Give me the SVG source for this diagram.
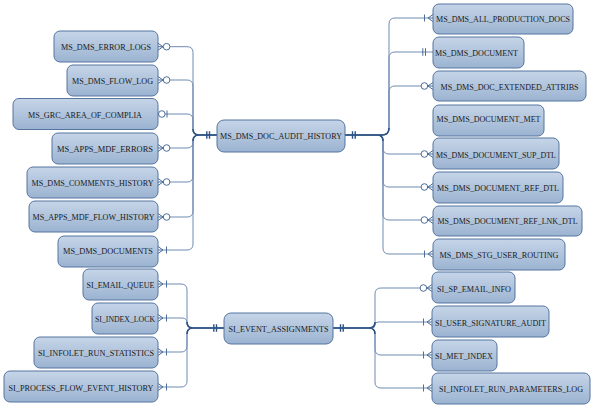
<svg xmlns="http://www.w3.org/2000/svg" width="594" height="408" viewBox="0 0 594 408">
<defs>
<linearGradient id="bg" x1="0" y1="0" x2="0" y2="1">
<stop offset="0" stop-color="#c6d5e8"/>
<stop offset="1" stop-color="#9bb3d1"/>
</linearGradient>
<g id="zm"><path d="M0,-3.5 L5,0 L0,3.5 M0,0 H5"/><circle cx="8.6" cy="0" r="3.3"/></g>
<g id="om"><path d="M0,-3.5 L5,0 L0,3.5 M0,0 H5 M8.5,-3.5 V3.5"/></g>
<g id="zo"><circle cx="3.8" cy="0" r="3.3"/><path d="M9,-3.5 V3.5"/></g>
<g id="oo"><path d="M7.5,-3.8 V3.8 M10.2,-3.8 V3.8"/></g>
</defs>
<style>
.box{fill:url(#bg);stroke:#55749f;stroke-width:1}
text{font-family:"Liberation Serif","Times New Roman",serif;font-size:8.8px;fill:#1a1a1a;text-anchor:middle}
.br{fill:none;stroke:#6f8bb2;stroke-width:1}
.mn{fill:none;stroke:#2c5283;stroke-width:1.6}
.sym{fill:#fff;stroke:#4d6d9a;stroke-width:1}
.symm{fill:none;stroke:#2c5283;stroke-width:1.4}
</style>

<g id="connectors">
<path class="br" d="M158,46.7 H187 Q193,46.7 193,52.7 V129 Q193,135 199,135 H217"/>
<path class="br" d="M158,80 H187 Q193,80 193,86 V129 Q193,135 199,135 H217"/>
<path class="br" d="M158,114 H187 Q193,114 193,120 V129 Q193,135 199,135 H217"/>
<path class="br" d="M158,148 H187 Q193,148 193,142 Q193,135 199,135 H217"/>
<path class="br" d="M158,182 H187 Q193,182 193,176 V141 Q193,135 199,135 H217"/>
<path class="br" d="M158,217 H187 Q193,217 193,211 V141 Q193,135 199,135 H217"/>
<path class="br" d="M158,250 H187 Q193,250 193,244 V141 Q193,135 199,135 H217"/>
<path class="mn" d="M193,129 Q193,135 199,135 H217 M193,141 Q193,135 199,135"/>

<path class="br" d="M433,18 H395 Q389,18 389,24 V128 Q389,135 382,135 H345"/>
<path class="br" d="M433,52 H395 Q389,52 389,58 V128 Q389,135 382,135 H345"/>
<path class="br" d="M433,86 H395 Q389,86 389,92 V128 Q389,135 382,135 H345"/>
<path class="br" d="M433,154 H389 Q383,154 383,148 V141 Q383,135 377,135 H345"/>
<path class="br" d="M433,187 H389 Q383,187 383,181 V141 Q383,135 377,135 H345"/>
<path class="br" d="M433,220 H389 Q383,220 383,214 V141 Q383,135 377,135 H345"/>
<path class="br" d="M433,254 H389 Q383,254 383,248 V141 Q383,135 377,135 H345"/>
<path class="mn" d="M345,135 H382 Q389,135 389,128 M377,135 Q383,135 383,141"/>

<path class="br" d="M158,284 H181 Q187,284 187,290 V322 Q187,328 193,328 H224"/>
<path class="br" d="M158,318 H182 Q187,318 187,323 Q187,328 192,328 H224"/>
<path class="br" d="M158,352 H181 Q187,352 187,346 V334 Q187,328 193,328 H224"/>
<path class="br" d="M158,387 H181 Q187,387 187,381 V334 Q187,328 193,328 H224"/>
<path class="mn" d="M187,322 Q187,328 193,328 H224 M187,334 Q187,328 193,328"/>

<path class="br" d="M432,288 H381 Q375,288 375,294 V322 Q375,328 369,328 H333"/>
<path class="br" d="M432,322 H378 Q375,322 375,325 Q375,328 372,328 H333"/>
<path class="br" d="M432,355 H381 Q375,355 375,349 V334 Q375,328 369,328 H333"/>
<path class="br" d="M432,388 H381 Q375,388 375,382 V334 Q375,328 369,328 H333"/>
<path class="mn" d="M333,328 H369 Q375,328 375,322 M369,328 Q375,328 375,334"/>

<use href="#zm" class="sym" transform="translate(158,46.7)"/>
<use href="#zm" class="sym" transform="translate(158,80)"/>
<use href="#zo" class="sym" transform="translate(158,114)"/>
<use href="#zm" class="sym" transform="translate(158,148)"/>
<use href="#zm" class="sym" transform="translate(158,182)"/>
<use href="#zm" class="sym" transform="translate(158,217)"/>
<use href="#om" class="sym" transform="translate(158,250)"/>
<use href="#oo" class="symm" transform="translate(217,135) scale(-1,1)"/>
<use href="#oo" class="symm" transform="translate(345,135)"/>
<use href="#om" class="sym" transform="translate(433,18) scale(-1,1)"/>
<use href="#oo" class="sym" transform="translate(433,52) scale(-1,1)"/>
<use href="#zm" class="sym" transform="translate(433,86) scale(-1,1)"/>
<use href="#zm" class="sym" transform="translate(433,154) scale(-1,1)"/>
<use href="#zm" class="sym" transform="translate(433,187) scale(-1,1)"/>
<use href="#zm" class="sym" transform="translate(433,220) scale(-1,1)"/>
<use href="#om" class="sym" transform="translate(433,254) scale(-1,1)"/>
<use href="#om" class="sym" transform="translate(158,284)"/>
<use href="#om" class="sym" transform="translate(158,318)"/>
<use href="#om" class="sym" transform="translate(158,352)"/>
<use href="#om" class="sym" transform="translate(158,387)"/>
<use href="#oo" class="symm" transform="translate(224,328) scale(-1,1)"/>
<use href="#oo" class="symm" transform="translate(333,328)"/>
<use href="#zm" class="sym" transform="translate(432,288) scale(-1,1)"/>
<use href="#om" class="sym" transform="translate(432,322) scale(-1,1)"/>
<use href="#om" class="sym" transform="translate(432,355) scale(-1,1)"/>
<use href="#om" class="sym" transform="translate(432,388) scale(-1,1)"/>
</g>

<g id="MS_DMS_ERROR_LOGS"><rect class="box" x="54" y="31" width="104" height="31" rx="6"/><text x="106" y="50" textLength="90" lengthAdjust="spacingAndGlyphs">MS_DMS_ERROR_LOGS</text></g>
<g id="MS_DMS_FLOW_LOG"><rect class="box" x="67" y="65" width="91" height="31" rx="6"/><text x="112.5" y="83.5" textLength="81" lengthAdjust="spacingAndGlyphs">MS_DMS_FLOW_LOG</text></g>
<g id="MS_GRC_AREA_OF_COMPLIA"><rect class="box" x="13" y="98.5" width="145" height="31" rx="6"/><text x="85" y="117.5" textLength="114" lengthAdjust="spacingAndGlyphs">MS_GRC_AREA_OF_COMPLIA</text></g>
<g id="MS_APPS_MDF_ERRORS"><rect class="box" x="52" y="133" width="106" height="31" rx="6"/><text x="105" y="151.5" textLength="96" lengthAdjust="spacingAndGlyphs">MS_APPS_MDF_ERRORS</text></g>
<g id="MS_DMS_COMMENTS_HISTORY"><rect class="box" x="27" y="167" width="131" height="31" rx="6"/><text x="92.5" y="185.5" textLength="122" lengthAdjust="spacingAndGlyphs">MS_DMS_COMMENTS_HISTORY</text></g>
<g id="MS_APPS_MDF_FLOW_HISTORY"><rect class="box" x="29" y="201" width="129" height="31" rx="6"/><text x="93.5" y="220" textLength="122" lengthAdjust="spacingAndGlyphs">MS_APPS_MDF_FLOW_HISTORY</text></g>
<g id="MS_DMS_DOCUMENTS"><rect class="box" x="58" y="236" width="100" height="31" rx="6"/><text x="108" y="253.5" textLength="90" lengthAdjust="spacingAndGlyphs">MS_DMS_DOCUMENTS</text></g>

<g id="MS_DMS_DOC_AUDIT_HISTORY"><rect class="box" x="217" y="120" width="128" height="32" rx="7"/><text x="281" y="138.5" textLength="122" lengthAdjust="spacingAndGlyphs">MS_DMS_DOC_AUDIT_HISTORY</text></g>

<g id="MS_DMS_ALL_PRODUCTION_DOCS"><rect class="box" x="433" y="4" width="140" height="30" rx="6"/><text x="503" y="21.5" textLength="134" lengthAdjust="spacingAndGlyphs">MS_DMS_ALL_PRODUCTION_DOCS</text></g>
<g id="MS_DMS_DOCUMENT"><rect class="box" x="433" y="37" width="91" height="31" rx="6"/><text x="476.5" y="55.5" textLength="83" lengthAdjust="spacingAndGlyphs">MS_DMS_DOCUMENT</text></g>
<g id="MS_DMS_DOC_EXTENDED_ATTRIBS"><rect class="box" x="433" y="71" width="153" height="30" rx="6"/><text x="509.5" y="89.5" textLength="138" lengthAdjust="spacingAndGlyphs">MS_DMS_DOC_EXTENDED_ATTRIBS</text></g>
<g id="MS_DMS_DOCUMENT_MET"><rect class="box" x="433" y="105" width="111" height="31" rx="6"/><text x="488.5" y="122" textLength="104" lengthAdjust="spacingAndGlyphs">MS_DMS_DOCUMENT_MET</text></g>
<g id="MS_DMS_DOCUMENT_SUP_DTL"><rect class="box" x="433" y="138" width="126" height="31" rx="6"/><text x="496" y="157.5" textLength="120" lengthAdjust="spacingAndGlyphs">MS_DMS_DOCUMENT_SUP_DTL</text></g>
<g id="MS_DMS_DOCUMENT_REF_DTL"><rect class="box" x="433" y="172" width="130" height="31" rx="6"/><text x="498" y="190.5" textLength="122" lengthAdjust="spacingAndGlyphs">MS_DMS_DOCUMENT_REF_DTL</text></g>
<g id="MS_DMS_DOCUMENT_REF_LNK_DTL"><rect class="box" x="433" y="206" width="149" height="30" rx="6"/><text x="507.5" y="223.5" textLength="140" lengthAdjust="spacingAndGlyphs">MS_DMS_DOCUMENT_REF_LNK_DTL</text></g>
<g id="MS_DMS_STG_USER_ROUTING"><rect class="box" x="433" y="239" width="132" height="31" rx="6"/><text x="499" y="257.5" textLength="119" lengthAdjust="spacingAndGlyphs">MS_DMS_STG_USER_ROUTING</text></g>

<g id="SI_EMAIL_QUEUE"><rect class="box" x="83" y="269" width="75" height="31" rx="6"/><text x="120.5" y="287.5" textLength="68" lengthAdjust="spacingAndGlyphs">SI_EMAIL_QUEUE</text></g>
<g id="SI_INDEX_LOCK"><rect class="box" x="92" y="303" width="66" height="31" rx="6"/><text x="125" y="321.5" textLength="60" lengthAdjust="spacingAndGlyphs">SI_INDEX_LOCK</text></g>
<g id="SI_INFOLET_RUN_STATISTICS"><rect class="box" x="34" y="337" width="124" height="31" rx="6"/><text x="96" y="355.5" textLength="116" lengthAdjust="spacingAndGlyphs">SI_INFOLET_RUN_STATISTICS</text></g>
<g id="SI_PROCESS_FLOW_EVENT_HISTORY"><rect class="box" x="4" y="371" width="154" height="31" rx="6"/><text x="81" y="390.5" textLength="145" lengthAdjust="spacingAndGlyphs">SI_PROCESS_FLOW_EVENT_HISTORY</text></g>

<g id="SI_EVENT_ASSIGNMENTS"><rect class="box" x="224" y="313" width="109" height="31" rx="7"/><text x="278.5" y="331.5" textLength="100" lengthAdjust="spacingAndGlyphs">SI_EVENT_ASSIGNMENTS</text></g>

<g id="SI_SP_EMAIL_INFO"><rect class="box" x="432" y="272" width="83" height="31" rx="6"/><text x="474" y="291.5" textLength="74" lengthAdjust="spacingAndGlyphs">SI_SP_EMAIL_INFO</text></g>
<g id="SI_USER_SIGNATURE_AUDIT"><rect class="box" x="432" y="306" width="117" height="31" rx="6"/><text x="490.5" y="325.5" textLength="111" lengthAdjust="spacingAndGlyphs">SI_USER_SIGNATURE_AUDIT</text></g>
<g id="SI_MET_INDEX"><rect class="box" x="432" y="340" width="65" height="31" rx="6"/><text x="464" y="358.5" textLength="58" lengthAdjust="spacingAndGlyphs">SI_MET_INDEX</text></g>
<g id="SI_INFOLET_RUN_PARAMETERS_LOG"><rect class="box" x="432" y="373" width="158" height="31" rx="6"/><text x="511" y="391.5" textLength="144" lengthAdjust="spacingAndGlyphs">SI_INFOLET_RUN_PARAMETERS_LOG</text></g>
</svg>
